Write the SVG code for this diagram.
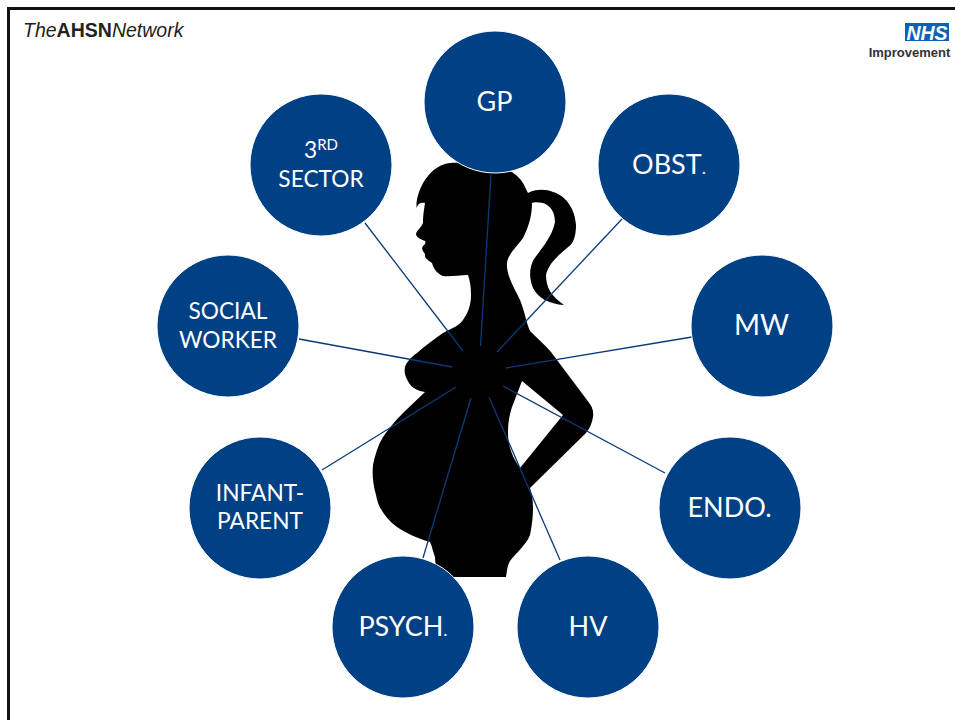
<svg xmlns="http://www.w3.org/2000/svg" width="955" height="720" viewBox="0 0 955 720">
<style>
.n{fill:#004085;stroke:#fff;stroke-width:1}
.t{font-family:Lato,"Liberation Sans",sans-serif;fill:#fff;text-anchor:middle;font-size:27px}
.s{font-size:22.700px}
.c line{stroke:#0a3a78;stroke-width:1.3}
</style>
<rect width="955" height="720" fill="#fff"/>
<path id="frame" d="M8.500 720V8.500H955" fill="none" stroke="#111" stroke-width="3"/>
<g id="logo-ahsn" font-family="'Liberation Sans',sans-serif" font-size="19.500" fill="#222"><text x="23" y="37" font-style="italic">The<tspan font-weight="bold" font-style="normal">AHSN</tspan>Network</text></g>
<g id="logo-nhs"><rect x="905" y="23" width="44" height="18" fill="#0b62b5"/><text x="927" y="39.500" font-family="'Liberation Sans',sans-serif" font-size="19.500" font-weight="bold" font-style="italic" fill="#fff" text-anchor="middle">NHS</text><text x="909.500" y="57" font-family="'Liberation Sans',sans-serif" font-size="13" font-weight="bold" fill="#333" text-anchor="middle">Improvement</text></g>
<path id="silhouette" fill-rule="evenodd" fill="#000" d="M416.500 203C419 184 432 165 450 163C480 160 513 165 523 183L528 193C535 189 546 189 553 192C567 196 575 210 576 225C576 237 573 244 567 248C557 256 548 265 546 275C546 287 551 296 564 305C549 304 538 298 533 288C529 278 529 268 534 259C542 248 552 237 555 222C555 212 550 205 543 203C538 202 534 202 532 203C532 215 529 226 523 238C516 248 508 254 507 263C506 275 514 287 520 300C525 312 526 322 530 331C537 338 545 345 551 352L557 360L587 400C592 406 594 411 593 417C592 423 590 428 586 433L530 488C534 500 534 515 530 535C526 545 516 553 510 561C507 566 507 572 506 577H440L436 572L435 557C433 552 432 546 430 542C416 538 406 533 397 527C385 518 378 507 376 495C373 484 372 475 373 465C375 455 378 445 383 437C390 427 396 420 403 413L425 392C418 391 412 388 409 383C405 377 404 372 405 367C406 363 410 358 417 353C425 346 434 339 443 333C452 328 459 326 463 320C468 313 471 305 471 295C471 287 470 281 468 275C460 275 449 277 443 276C438 274 434 270 432 263C428 260 424 258 425 254C423 251 421 249 423 246C425 244 426 243 425 241C420 239 416 237 416 234C417 230 421 228 423 223C423 215 424 210 425 203C421 202 418 203 416.500 208Z M522 381L563 415L520 468C513 458 508 447 508 433C508 423 509 417 512 407Z"/>
<g id="connectors" class="c">
<line x1="491" y1="174" x2="480.500" y2="346"/>
<line x1="365" y1="223" x2="463" y2="351"/>
<line x1="622" y1="219" x2="497" y2="352"/>
<line x1="299" y1="339" x2="452" y2="367"/>
<line x1="692" y1="337" x2="506" y2="368"/>
<line x1="322" y1="470" x2="456" y2="387"/>
<line x1="665" y1="473" x2="503" y2="386"/>
<line x1="423" y1="558" x2="471" y2="398"/>
<line x1="560" y1="560" x2="489" y2="397"/>
</g>
<g id="gp"><circle class="n" cx="495" cy="102" r="71"/><text class="t" x="494.500" y="111">GP</text></g>
<g id="obst"><circle class="n" cx="669" cy="165" r="71"/><text class="t" x="669" y="174">OBST<tspan font-size="18">.</tspan></text></g>
<g id="mw"><circle class="n" cx="762" cy="326" r="71"/><text class="t" x="761.500" y="335" style="font-size:28px">MW</text></g>
<g id="endo"><circle class="n" cx="730" cy="508" r="71"/><text class="t" x="729.500" y="517">ENDO.</text></g>
<g id="hv"><circle class="n" cx="588" cy="627" r="71"/><text class="t" x="588" y="636">HV</text></g>
<g id="psych"><circle class="n" cx="403" cy="627" r="71"/><text class="t" x="403" y="636">PSYCH<tspan font-size="18">.</tspan></text></g>
<g id="infant-parent"><circle class="n" cx="260" cy="508" r="71"/><text class="t s" x="260" y="501">INFANT-</text><text class="t s" x="260" y="529">PARENT</text></g>
<g id="social-worker"><circle class="n" cx="228" cy="326" r="71"/><text class="t s" x="228" y="319">SOCIAL</text><text class="t s" x="228" y="348">WORKER</text></g>
<g id="third-sector"><circle class="n" cx="321" cy="165" r="71"/><text class="t s" x="321" y="158">3<tspan font-size="15" dy="-8">RD</tspan></text><text class="t s" x="321" y="187">SECTOR</text></g>
</svg>
